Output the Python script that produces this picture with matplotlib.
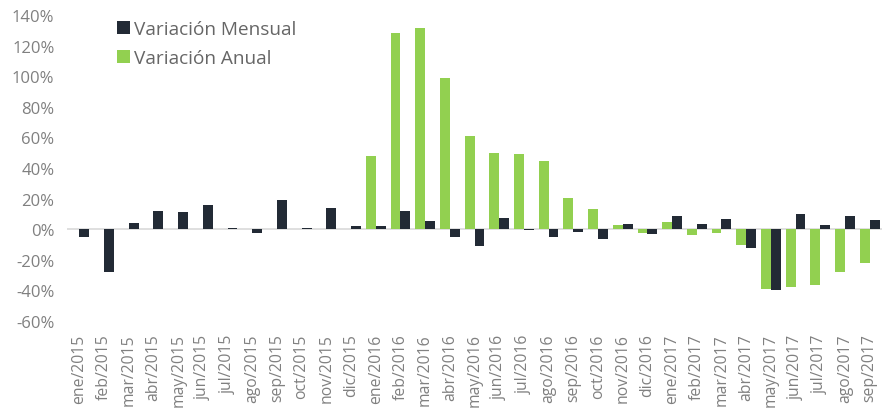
import numpy as np
import matplotlib.pyplot as plt

plt.rcParams['font.family'] = ['Open Sans', 'DejaVu Sans']

meses = ['ene/2015', 'feb/2015', 'mar/2015', 'abr/2015', 'may/2015', 'jun/2015',
         'jul/2015', 'ago/2015', 'sep/2015', 'oct/2015', 'nov/2015', 'dic/2015',
         'ene/2016', 'feb/2016', 'mar/2016', 'abr/2016', 'may/2016', 'jun/2016',
         'jul/2016', 'ago/2016', 'sep/2016', 'oct/2016', 'nov/2016', 'dic/2016',
         'ene/2017', 'feb/2017', 'mar/2017', 'abr/2017', 'may/2017', 'jun/2017',
         'jul/2017', 'ago/2017', 'sep/2017']

# variacion mensual (%)
mensual = [-5, -28, 4, 12, 11.3, 15.7, 0.6, -2.2, 19, 1, 13.7, 2.2,
           2.4, 12, 5.2, -4.8, -10.9, 7.6, -0.5, -5.2, -2, -6.3, 3.5, -3.1,
           8.5, 3.5, 6.7, -12, -40, 9.8, 2.6, 8.5, 6.3]

# variacion anual (%), sin datos en 2015
anual = [0, 0, 0, 0, 0, 0, 0, 0, 0, 0, 0, 0,
         48, 128.3, 131.4, 99, 61, 49.7, 49.2, 44.9, 20.7, 13.1, 2.8, -2.2,
         4.6, -4.1, -2.8, -10.5, -39.4, -38.1, -36.6, -27.9, -22.2]

verde = '#92D050'
oscuro = '#222A35'
gris = '#808080'

fig = plt.figure(figsize=(8.85, 4.14), dpi=100)
ax = fig.add_axes([67/885, 92/414, 815/885, 306/414])

x = np.arange(len(meses))
w = 0.4
ax.bar(x - w/2, anual, w, color=verde, label='Variación Anual', zorder=2)
ax.bar(x + w/2, mensual, w, color=oscuro, label='Variación Mensual', zorder=2)

ax.axhline(0, color='#D9D9D9', lw=1.2, zorder=1)

ax.set_xlim(-0.5, len(meses) - 0.5)
ax.set_ylim(-60, 140)
ax.set_yticks(np.arange(-60, 141, 20))
ax.set_yticklabels(['%d%%' % v for v in np.arange(-60, 141, 20)])
ax.set_xticks(x)
ax.set_xticklabels(meses, rotation=90)

for s in ax.spines.values():
    s.set_visible(False)
ax.tick_params(axis='both', length=0, colors=gris)
ax.tick_params(axis='y', labelsize=12, pad=9)
ax.tick_params(axis='x', labelsize=11.3, pad=9)

h, l = ax.get_legend_handles_labels()
ax.legend(h[::-1], l[::-1], loc='upper left', bbox_to_anchor=(0.04, 1.04),
          frameon=False, fontsize=13.7, labelcolor='#666666',
          handlelength=0.7, handleheight=0.7, handletextpad=0.2, labelspacing=0.6)

fig.savefig('out.png', dpi=100)
